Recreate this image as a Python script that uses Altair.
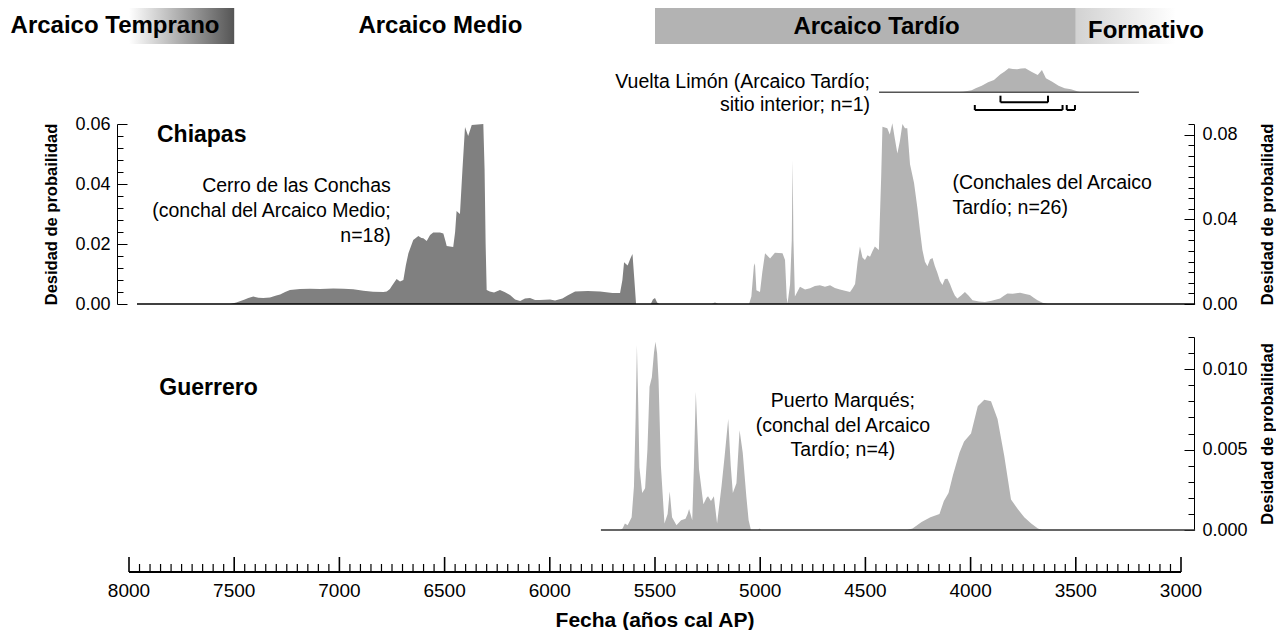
import altair as alt
import pandas as pd

FONT = "Liberation Sans"
DARK = "#808080"
LIGHT = "#b3b3b3"

# ---------------- data ----------------
# Cerro de las Conchas (Chiapas, Arcaico Medio) - left axis
cerro_year = [7962, 7520, 7490, 7450, 7433, 7409, 7385, 7362, 7330, 7300, 7282, 7258, 7235, 7187, 7140,
              7092, 7029, 6980, 6934, 6886, 6840, 6791, 6775, 6760, 6751, 6728, 6712, 6696, 6684, 6672,
              6649, 6625, 6610, 6601, 6585, 6569, 6554, 6522, 6506, 6496, 6490, 6459, 6450, 6443, 6427,
              6415, 6403, 6388, 6371, 6316, 6310, 6305, 6300, 6285, 6265, 6237, 6215, 6189, 6165, 6141,
              6118, 6094, 6070, 6047, 5999, 5975, 5940, 5916, 5880, 5820, 5761, 5702, 5666, 5655, 5647,
              5630, 5618, 5607, 5598, 5590, 5520, 5510, 5500, 5490, 5480]
cerro_dens = [0, 0, 0.0005, 0.0015, 0.002, 0.0025, 0.0021, 0.002, 0.0022, 0.0028, 0.0032, 0.004, 0.0047, 0.005, 0.0051,
              0.005, 0.0052, 0.0051, 0.0049, 0.0044, 0.0041, 0.004, 0.0042, 0.005, 0.006, 0.0083, 0.0075, 0.008, 0.013, 0.0169,
              0.0213, 0.0227, 0.022, 0.0219, 0.021, 0.023, 0.0238, 0.0238, 0.0235, 0.021, 0.0193, 0.019, 0.024, 0.031, 0.030,
              0.045, 0.059, 0.056, 0.0597, 0.060, 0.045, 0.02, 0.0047, 0.0042, 0.0038, 0.0047, 0.004, 0.003, 0.0015, 0.001,
              0.0018, 0.002, 0.0013, 0.0013, 0.0015, 0.0012, 0.0018, 0.0028, 0.0042, 0.0043, 0.0042, 0.0037, 0.0037, 0.008, 0.0139,
              0.0128, 0.015, 0.0167, 0.008, 0, 0, 0.0015, 0.002, 0.0005, 0]

# Conchales del Arcaico Tardio (Chiapas) - right axis
late_year = [5230, 5215, 5200, 5053, 5042, 5030, 5025, 5018, 5001, 4990, 4977, 4953, 4930, 4894, 4882,
             4874, 4870, 4858, 4850, 4846, 4842, 4835, 4811, 4787, 4763, 4740, 4716, 4692, 4668, 4645,
             4621, 4597, 4573, 4560, 4549, 4537, 4526, 4514, 4502, 4490, 4478, 4466, 4455, 4436, 4425,
             4419, 4396, 4384, 4372, 4360, 4348, 4336, 4324, 4312, 4301, 4288, 4269, 4253, 4241, 4229,
             4217, 4205, 4193, 4181, 4170, 4158, 4146, 4134, 4122, 4110, 4098, 4086, 4075, 4063, 4045,
             4027, 4010, 3991, 3960, 3932, 3900, 3860, 3840, 3825, 3800, 3765, 3740, 3718, 3700, 3682,
             3658, 3634]
late_dens = [0, 0.0008, 0, 0, 0.0035, 0.018, 0.0193, 0.0065, 0.0057, 0.015, 0.024, 0.0215, 0.0242, 0.024, 0.0208,
             0.003, 0.0002, 0.0093, 0.03, 0.068, 0.03, 0.0035, 0.0082, 0.0068, 0.0074, 0.0085, 0.0089, 0.0082, 0.0089, 0.0075,
             0.0068, 0.0062, 0.0057, 0.0075, 0.0095, 0.02, 0.0271, 0.022, 0.0208, 0.023, 0.0223, 0.025, 0.0271, 0.0255, 0.06,
             0.0837, 0.083, 0.08, 0.0853, 0.078, 0.0711, 0.077, 0.085, 0.083, 0.083, 0.066, 0.0573, 0.0455, 0.035, 0.0255,
             0.02, 0.0178, 0.021, 0.0217, 0.018, 0.0147, 0.011, 0.009, 0.0118, 0.0119, 0.0095, 0.0064, 0.004, 0.0026, 0.004,
             0.0057, 0.004, 0.0018, 0.0012, 0.001, 0.0015, 0.0026, 0.004, 0.005, 0.0048, 0.0053, 0.0047, 0.0042, 0.003, 0.0018,
             0.0006, 0]

# Puerto Marques (Guerrero)
guer_year = [5665, 5654, 5643, 5630, 5611, 5600, 5592, 5586, 5580, 5574, 5561, 5547, 5536, 5526, 5515,
             5505, 5498, 5490, 5483, 5472, 5455, 5440, 5430, 5419, 5398, 5376, 5355, 5345, 5338, 5323,
             5315, 5306, 5298, 5291, 5270, 5255, 5248, 5234, 5220, 5205, 5184, 5169, 5152, 5140, 5130,
             5113, 5098, 5083, 5066, 5055, 5044, 5010, 5003, 4995, 4300, 4276, 4233, 4191, 4148, 4127,
             4105, 4084, 4053, 4031, 3998, 3966, 3935, 3903, 3872, 3840, 3808, 3776, 3745, 3712, 3680,
             3660]
guer_dens = [0, 0.0001, 0.0004, 0.0003, 0.0008, 0.0027, 0.007, 0.0115, 0.008, 0.0039, 0.0023, 0.0026, 0.005, 0.0089, 0.0095,
             0.011, 0.0117, 0.011, 0.0093, 0.004, 0.0004, 0.001, 0.0024, 0.0008, 0.0003, 0.0006, 0.0007, 0.001, 0.0013, 0.0006,
             0.004, 0.0086, 0.006, 0.0038, 0.0016, 0.002, 0.0021, 0.0018, 0.0021, 0.0004, 0.0027, 0.0046, 0.0069, 0.004, 0.0023,
             0.0029, 0.0062, 0.0048, 0.0021, 0.0006, 0, 0, 0.0001, 0, 0, 0.0001, 0.0005, 0.0008, 0.001, 0.0018,
             0.0023, 0.0034, 0.0048, 0.0055, 0.006, 0.0077, 0.0081, 0.008, 0.0069, 0.0046, 0.0019, 0.0013, 0.0008, 0.0004, 0.0001,
             0]

# Vuelta Limon inset (relative density)
vl_year = [4074, 4036, 3995, 3976, 3947, 3917, 3889, 3858, 3838, 3819, 3800, 3779, 3760, 3740, 3711,
           3681, 3661, 3642, 3612, 3582, 3553, 3523, 3490, 3475]
vl_dens = [0, 0.02, 0.08, 0.16, 0.27, 0.41, 0.5, 0.73, 0.85, 0.98, 0.95, 0.94, 0.97, 0.98, 0.84,
           0.7, 0.91, 0.57, 0.43, 0.27, 0.16, 0.12, 0.03, 0]
vl_range68_start = [3858]
vl_range68_end = [3632]
vl_range95_start = [3980, 3543]
vl_range95_end = [3563, 3504]

# baselines (start, end years)
chiapas_base = [7962, 2933]
guerrero_base = [5757, 2933]
inset_base = [4435, 3200]

# periods
period_box_start = [8000, 5500, 3500]
period_box_end = [7500, 3500, 3000]
period_names = ["Arcaico Temprano", "Arcaico Medio", "Arcaico Tardío", "Formativo"]
period_label_year = [8563, 6520, 4447, 3442]

# ticks
x_ticks = list(range(3000, 8001, 50))
x_major_step = 500
x_extent = [8000, 3000]
x_title = "Fecha (años cal AP)"
left_ticks = [round(i * 0.004, 3) for i in range(16)]
right_ticks = [round(i * 0.005, 3) for i in range(18)]
guer_ticks = [round(i * 0.001, 3) for i in range(13)]

# annotation texts
chiapas_label = ("Chiapas", 7867)
guerrero_label = ("Guerrero", 7856)
cerro_lines = (["Cerro de las Conchas", "(conchal del Arcaico Medio;", "n=18)"], 6756)
late_lines = (["(Conchales del Arcaico", "Tardío; n=26)"], 4086)
puerto_lines = (["Puerto Marqués;", "(conchal del Arcaico", "Tardío; n=4)"], 4607)
vl_lines = (["Vuelta Limón (Arcaico Tardío;", "sitio interior; n=1)"], 4478)

# ---------------- chart ----------------
W, H = 1052, 522
xs = alt.Scale(domain=[8000, 3000], nice=False, zero=False)


def xenc(field="year"):
    return alt.X(f"{field}:Q", scale=xs, axis=None)


def y_axis(orient, ticks, mult, fmt, offset, lpad, tpad):
    major = f"abs(datum.value*{mult} - round(datum.value*{mult})) < 0.001"
    kw = {}
    if orient == "right":
        kw = dict(titleAngle=270, titleBaseline="top")
    return alt.Axis(
        values=ticks, orient=orient, offset=offset, grid=False,
        domainColor="black", domainWidth=1, tickColor="black", tickWidth=1,
        tickSize={"condition": {"test": major, "value": -10}, "value": -6},
        labelExpr=f"{major} ? datum.label : ''", format=fmt,
        labelFont=FONT, labelFontSize=18, labelColor="black", labelPadding=lpad,
        labelOverlap=False, labelFlush=False,
        title="Desidad de probailidad", titleFont=FONT, titleFontSize=16.5,
        titleFontWeight="bold", titleColor="black", titlePadding=tpad, **kw)


def yscale(dom, rng):
    return alt.Scale(domain=dom, range=rng, nice=False, zero=False)


S_LEFT = ([0, 0.06], [296, 116])
S_RIGHT = ([0, 0.085], [296, 116])
S_GUER = ([0, 0.012], [522, 329])
S_INSET = ([0, 1], [84.3, 59.7])


def area(years, dens, color, sc, yaxis=None):
    df = pd.DataFrame({"year": years, "dens": dens})
    return alt.Chart(df).mark_area(color=color, opacity=1, interpolate="linear").encode(
        x=xenc(),
        y=alt.Y("dens:Q", scale=yscale(*sc), axis=yaxis))


def baseline(ext, sc, color="black", width=1.5):
    df = pd.DataFrame({"year": [ext[0]], "year2": [ext[1]], "zero": [0]})
    return alt.Chart(df).mark_rule(color=color, strokeWidth=width).encode(
        x=xenc(), x2="year2:Q", y=alt.Y("zero:Q", scale=yscale(*sc), axis=None))


def text(lines, year, y, align, size, weight="normal", lh=25):
    df = pd.DataFrame({"year": [year]})
    return alt.Chart(df).mark_text(
        text=lines, align=align, baseline="alphabetic", font=FONT, fontSize=size,
        fontWeight=weight, lineHeight=lh, color="black").encode(x=xenc(), y=alt.value(y))


def box(i, fill):
    df = pd.DataFrame({"year": [period_box_start[i]], "year2": [period_box_end[i]]})
    return alt.Chart(df).mark_rect(color=fill).encode(
        x=xenc(), x2="year2:Q", y=alt.value(0), y2=alt.value(36))


def bracket(starts, ends, level, tick):
    df = pd.DataFrame({"year": starts, "year2": ends})
    hline = alt.Chart(df).mark_rule(color="black", strokeWidth=2).encode(
        x=xenc(), x2="year2:Q", y=alt.value(level))
    ends_df = pd.DataFrame({"year": list(starts) + list(ends)})
    vt = alt.Chart(ends_df).mark_rule(color="black", strokeWidth=2).encode(
        x=xenc(), y=alt.value(level), y2=alt.value(level - tick))
    return [hline, vt]


# ---- bottom time axis (ticks pointing up, labels below) ----
AX_Y = 564  # axis line, pixels from the top of the plot area
tick_df = pd.DataFrame({"year": x_ticks})
tick_df["major"] = tick_df["year"] % x_major_step == 0
major_df = tick_df[tick_df["major"]].copy()
major_df["label"] = major_df["year"].astype(str)
minor_df = tick_df[~tick_df["major"]]

axis_line = alt.Chart(pd.DataFrame({"year": [x_extent[0]], "year2": [x_extent[1]]})).mark_rule(
    color="black", strokeWidth=2).encode(x=xenc(), x2="year2:Q", y=alt.value(AX_Y))
major_ticks = alt.Chart(major_df).mark_rule(color="black", strokeWidth=1.6).encode(
    x=xenc(), y=alt.value(AX_Y), y2=alt.value(AX_Y - 15))
minor_ticks = alt.Chart(minor_df).mark_rule(color="black", strokeWidth=1.2).encode(
    x=xenc(), y=alt.value(AX_Y), y2=alt.value(AX_Y - 8))
tick_labels = alt.Chart(major_df).mark_text(
    align="center", baseline="alphabetic", font=FONT, fontSize=19, color="black").encode(
    x=xenc(), y=alt.value(AX_Y + 25), text="label:N")
axis_title = text(x_title, sum(x_extent) / 2, AX_Y + 55, "center", 21, "bold")

grad_early = {"gradient": "linear", "x1": 0, "x2": 1, "y1": 0, "y2": 0,
              "stops": [{"offset": 0, "color": "#ffffff"}, {"offset": 1, "color": "#555555"}]}
grad_form = {"gradient": "linear", "x1": 0, "x2": 1, "y1": 0, "y2": 0,
             "stops": [{"offset": 0, "color": "#d2d2d2"}, {"offset": 0.95, "color": "#ffffff"},
                       {"offset": 1, "color": "#ffffff"}]}

layers = [
    box(0, grad_early),
    box(1, LIGHT),
    box(2, grad_form),
    text(period_names[0], period_label_year[0], 25, "left", 24, "bold"),
    text(period_names[1], period_label_year[1], 25, "center", 24, "bold"),
    text(period_names[2], period_label_year[2], 26, "center", 24, "bold"),
    text(period_names[3], period_label_year[3], 30, "left", 24, "bold"),
    area(cerro_year, cerro_dens, DARK, S_LEFT,
         yaxis=y_axis("left", left_ticks, 50, ".2f", 12, 17, 15)),
    area(late_year, late_dens, LIGHT, S_RIGHT,
         yaxis=y_axis("right", right_ticks, 25, ".2f", 13, 18, 22)),
    area(guer_year, guer_dens, LIGHT, S_GUER,
         yaxis=y_axis("right", guer_ticks, 200, ".3f", 13, 18, 12)),
    area(vl_year, vl_dens, LIGHT, S_INSET),
    baseline(chiapas_base, S_LEFT),
    baseline(guerrero_base, S_GUER, color="#333333", width=1.5),
    baseline(inset_base, S_INSET, color="#555555", width=1.5),
    axis_line, major_ticks, minor_ticks, tick_labels, axis_title,
]
layers += bracket(vl_range68_start, vl_range68_end, 94.3, 6.6)
layers += bracket(vl_range95_start, vl_range95_end, 102, 5)
layers += [
    text(chiapas_label[0], chiapas_label[1], 133.7, "left", 23, "bold"),
    text(guerrero_label[0], guerrero_label[1], 387, "left", 23, "bold"),
    text(cerro_lines[0], cerro_lines[1], 183.7, "right", 19.5, lh=25),
    text(late_lines[0], late_lines[1], 180.5, "left", 19.5, lh=25),
    text(puerto_lines[0], puerto_lines[1], 399, "center", 19.5, lh=24.5),
    text(vl_lines[0], vl_lines[1], 79.5, "right", 19.5, lh=23.5),
]

chart = (
    alt.layer(*layers)
    .resolve_scale(y="independent")
    .resolve_axis(y="independent")
    .properties(width=W, height=H,
                autosize=alt.AutoSizeParams(type="none"),
                padding={"left": 121, "top": 0, "right": 95, "bottom": 100})
    .configure(background="white")
    .configure_view(stroke=None)
)

chart.save("out.html", embed_options={"renderer": "svg", "actions": False})
